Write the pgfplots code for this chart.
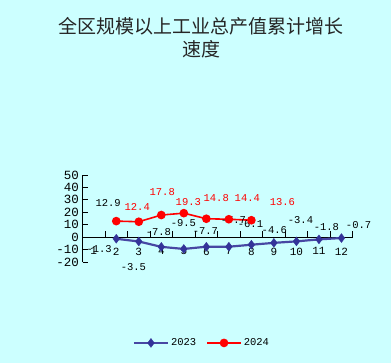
\documentclass[border=0pt]{standalone}
\usepackage{pgfplots}
\pgfplotsset{compat=1.18}
\usepackage{fontspec}
\setmainfont{Liberation Mono}
\newfontfamily\cjk{Noto Sans CJK SC}
\definecolor{bg}{HTML}{CCFFFF}
\definecolor{navy}{HTML}{333399}
\begin{document}
\begin{tikzpicture}
\fill[bg] (0,0) rectangle (391bp,-363bp);
\node[font=\cjk\fontsize{19bp}{23bp}\selectfont, align=center, text=black!85] at (201bp,-38bp) {全区规模以上工业总产值累计增长\\速度};
\begin{axis}[
  at={(82.5bp,-262bp)}, anchor=south west,
  scale only axis, width=270.2bp, height=87bp,
  xmin=0.5, xmax=12.5, ymin=-20, ymax=50,
  axis x line=middle, axis y line=left,
  axis line style={-, black, line width=0.8pt},
  xtick={1,...,12}, major x tick style={draw=none},
  minor xtick={1.5,2.5,...,12.5},
  xtick align=inside, ytick align=inside,
  minor tick length=6bp, major tick length=5bp,
  ytick={-20,-10,...,50},
  every tick/.style={black, line width=0.8pt},
  xticklabel style={font=\fontsize{11bp}{12bp}\selectfont, yshift=-7bp},
  yticklabel style={font=\fontsize{12.5bp}{14bp}\selectfont},
  /pgf/number format/assume math mode=true,
  clip=false,
  legend style={at={(0.442,-0.93)}, anchor=center, draw=none, fill=none,
    font=\fontsize{10.5bp}{12bp}\selectfont, legend columns=2,
    /tikz/every even column/.append style={column sep=8bp}},
  legend image code/.code={\draw[#1, mark=none] (0bp,0bp) -- (34bp,0bp); \path[#1, only marks] plot coordinates {(17bp,0bp)};},
]
\addplot[navy!90!white, line width=2.2pt, mark=diamond*, mark size=4.5bp, mark options={fill=navy, draw=navy, line width=0.3pt}]
  coordinates {(2,-1.3) (3,-3.5) (4,-7.8) (5,-9.5) (6,-7.7) (7,-7.7) (8,-6.1) (9,-4.6) (10,-3.4) (11,-1.8) (12,-0.7)};
\addlegendentry{2023}
\addplot[red, line width=1.6pt, mark=*, mark size=3.5bp, mark options={fill=red, draw=red}]
  coordinates {(2,12.9) (3,12.4) (4,17.8) (5,19.3) (6,14.8) (7,14.4) (8,13.6)};
\addlegendentry{2024}
\begin{scope}[every node/.style={font=\fontsize{10.5bp}{12bp}\selectfont}]
\node at (axis cs:1.24,-9.6) {-1.3};
\node at (axis cs:2.76,-24.1) {-3.5};
\node at (axis cs:3.87,4.1) {-7.8};
\node at (axis cs:4.98,11.3) {-9.5};
\node at (axis cs:5.96,4.9) {-7.7};
\node at (axis cs:7.2,13.8) {-7.7};
\node at (axis cs:7.96,10.5) {-6.1};
\node at (axis cs:9.02,5.7) {-4.6};
\node at (axis cs:10.18,13.8) {-3.4};
\node at (axis cs:11.33,8.1) {-1.8};
\node at (axis cs:12.76,9.7) {-0.7};
\node at (axis cs:1.64,27.4) {12.9};
\node[red] at (axis cs:2.93,24.2) {12.4};
\node[red] at (axis cs:4.04,36.3) {17.8};
\node[red] at (axis cs:5.2,28.2) {19.3};
\node[red] at (axis cs:6.44,31.5) {14.8};
\node[red] at (axis cs:7.82,31.5) {14.4};
\node[red] at (axis cs:9.38,28.2) {13.6};
\end{scope}
\end{axis}
\end{tikzpicture}
\end{document}
